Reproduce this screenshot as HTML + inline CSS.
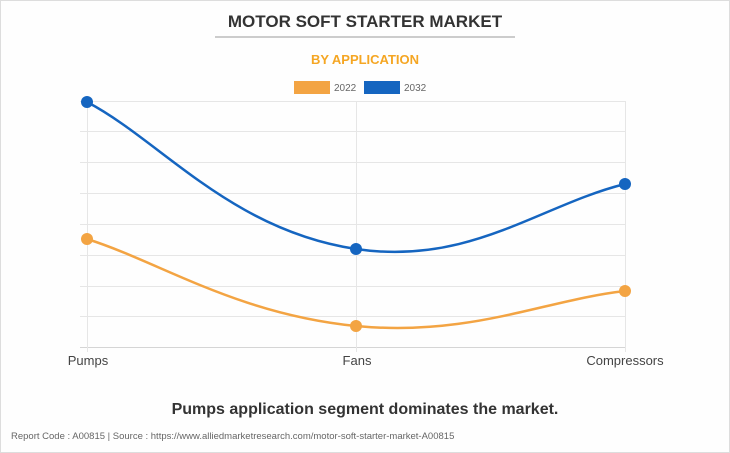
<!DOCTYPE html>
<html><head><meta charset="utf-8"><style>
body{margin:0;background:#fff;}
.w{position:relative;width:728px;height:451px;border:1px solid #ddd;background:#fefefe;font-family:"Liberation Sans",sans-serif;overflow:hidden}
</style></head><body><div class="w">
<svg width="730" height="453" style="position:absolute;left:-1px;top:-1px" font-family="Liberation Sans, sans-serif">
<text x="365" y="27" text-anchor="middle" font-size="17" font-weight="bold" fill="#333">MOTOR SOFT STARTER MARKET</text>
<line x1="215" y1="37" x2="515" y2="37" stroke="#999" stroke-width="1"/>
<text x="365" y="64" text-anchor="middle" font-size="13" font-weight="bold" fill="#f5a623">BY APPLICATION</text>
<rect x="294" y="81" width="36" height="13" fill="#f3a443"/>
<text x="334" y="91" font-size="10" fill="#666">2022</text>
<rect x="364" y="81" width="36" height="13" fill="#1565c0"/>
<text x="404" y="91" font-size="10" fill="#666">2032</text>
<g stroke="#e6e6e6" stroke-width="1">
<line x1="80" y1="101.5" x2="625" y2="101.5"/><line x1="80" y1="131.5" x2="625" y2="131.5"/>
<line x1="80" y1="162.5" x2="625" y2="162.5"/><line x1="80" y1="193.5" x2="625" y2="193.5"/>
<line x1="80" y1="224.5" x2="625" y2="224.5"/><line x1="80" y1="255.5" x2="625" y2="255.5"/>
<line x1="80" y1="286.5" x2="625" y2="286.5"/><line x1="80" y1="316.5" x2="625" y2="316.5"/>
<line x1="80" y1="347.5" x2="625" y2="347.5" stroke="#d5d5d5"/>
<line x1="87.5" y1="101" x2="87.5" y2="352"/><line x1="356.5" y1="101" x2="356.5" y2="352"/><line x1="625.5" y1="101" x2="625.5" y2="352"/>
</g>
<path d="M87,102 C160,140 230,230 356,249 C470,266 540,205 625,184" fill="none" stroke="#1565c0" stroke-width="2.5"/>
<path d="M87,239 C160,262 236,314 356,326 C470,337 545,300 625,291" fill="none" stroke="#f3a443" stroke-width="2.5"/>
<g fill="#1565c0"><circle cx="87" cy="102" r="6"/><circle cx="356" cy="249" r="6"/><circle cx="625" cy="184" r="6"/></g>
<g fill="#f3a443"><circle cx="87" cy="239" r="6"/><circle cx="356" cy="326" r="6"/><circle cx="625" cy="291" r="6"/></g>
<g font-size="13" fill="#444" text-anchor="middle">
<text x="88" y="365">Pumps</text><text x="357" y="365">Fans</text><text x="625" y="365">Compressors</text></g>
<text x="365" y="414" text-anchor="middle" font-size="16" font-weight="bold" fill="#333">Pumps application segment dominates the market.</text>
<text x="11" y="439" font-size="9.5" fill="#666">Report Code : A00815  |  Source : https://www.alliedmarketresearch.com/motor-soft-starter-market-A00815</text>
</svg></div></body></html>
